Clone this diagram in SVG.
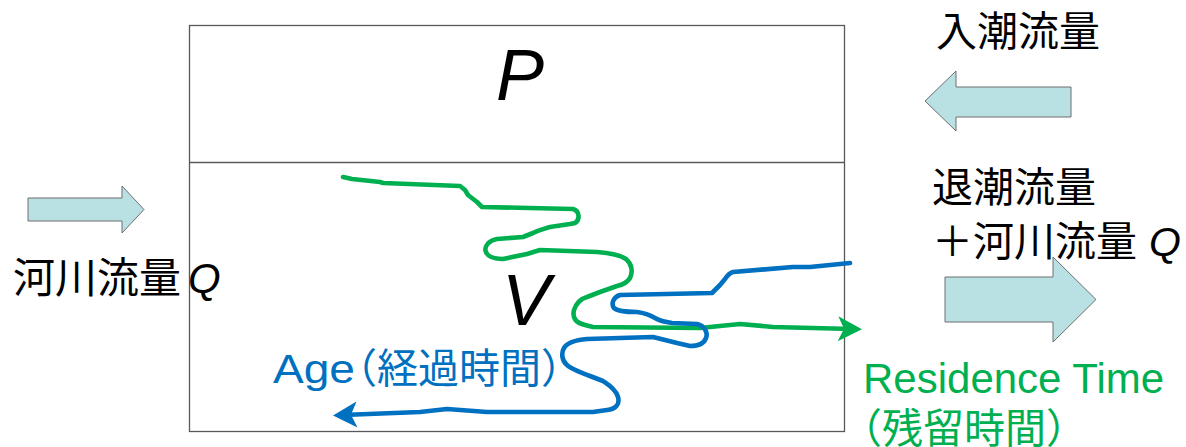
<svg xmlns="http://www.w3.org/2000/svg" width="1186" height="447" viewBox="0 0 1186 447">
<style>
.jp{font-family:"Noto Sans CJK JP","Liberation Sans",sans-serif;font-size:41px;fill:#000}
.q{font-family:"Liberation Sans",sans-serif;font-style:italic}
.big{font-family:"Liberation Sans",sans-serif;font-style:italic;font-size:72px;fill:#000}
.blk{fill:#B9E0E2;stroke:#6E6E6E;stroke-width:1}
.flow{fill:none;stroke-width:4.6;stroke-linejoin:round;stroke-linecap:round}
</style>
<defs>
<marker id="ag" markerUnits="userSpaceOnUse" viewBox="-16 -14 28 28" refX="0" refY="0" markerWidth="28" markerHeight="28" orient="auto">
<path d="M10,0 L-14,-12.5 L-8,0 L-14,12.5 Z" fill="#00B050"/>
</marker>
<marker id="ab" markerUnits="userSpaceOnUse" viewBox="-16 -14 28 28" refX="0" refY="0" markerWidth="28" markerHeight="28" orient="auto">
<path d="M10,0 L-14,-13 L-8,0 L-14,13 Z" fill="#0070C0"/>
</marker>
</defs>
<rect width="1186" height="447" fill="#fff"/>
<g id="box">
<rect x="189.5" y="25.5" width="655" height="406" fill="none" stroke="#595959" stroke-width="1.3"/>
<line x1="189.5" y1="162.5" x2="844.5" y2="162.5" stroke="#595959" stroke-width="1.3"/>
<text class="big" x="520" y="100" text-anchor="middle">P</text>
<text class="big" x="526" y="325" text-anchor="middle">V</text>
</g>
<g id="river-in">
<polygon class="blk" points="28,198 122,198 122,186 144,209.5 122,233 122,221 28,221"/>
<text class="jp" x="13" y="293" style="font-size:42px">河川流量<tspan class="q" x="188">Q</tspan></text>
</g>
<g id="flood-tide">
<text class="jp" x="936" y="46">入潮流量</text>
<polygon class="blk" points="1071,87 956,87 956,71 925,101 956,131 956,117 1071,117"/>
</g>
<g id="ebb-tide">
<text class="jp" x="932" y="202">退潮流量</text>
<text class="jp" x="932" y="256">＋河川流量<tspan class="q" x="1149">Q</tspan></text>
<polygon class="blk" points="945,277 1053,277 1053,257 1096,299.5 1053,342 1053,322 945,322"/>
</g>
<g id="connectors">
<path class="flow" stroke="#00B050" marker-end="url(#ag)" d="M343,177 L352,179 L380,182 L383,183 L460,186 L465,190 L468,195 L477,202 L482,207 L573,209 C580,211 580,220 575,223 L570,224 L550,227 C543,229 537,231 533,233 L523,237 L497,239 C487,241 484,248 486,252 C488,257 495,259 503,259 L527,254 L540,250 L597,252 C610,253 620,255 626,259 C632,264 633,272 630,278 C627,283 622,285 617,286 L600,292 L587,297 C580,299 576,304 574,310 C572,318 576,323 585,325 L593,327 L700,328 L740,324 L773,327 L852,329"/>
<path class="flow" stroke="#0070C0" marker-end="url(#ab)" d="M850,263 L810,267 L793,267 L733,272 C729,273 727,276 725,279 L720,285 L712,293 L620,295 C613,297 611,304 614,308 C617,311 625,312 637,312 C645,313 650,315 655,318 C660,321 665,322 672,323 L697,324 C705,326 708,333 706,338 C704,344 698,346 690,346 L677,343 L653,337 L587,339 C575,340 567,343 564,348 C561,353 562,360 566,364 C570,369 580,372 590,376 L603,381 C610,386 616,390 618,397 C620,404 616,409 607,410 L593,412 L487,412 L447,409 L420,412 L343,415"/>
</g>
<g id="age-label">
<text x="273" y="383" fill="#0070C0" style="font-family:'Liberation Sans',sans-serif;font-size:41px"><tspan textLength="82" lengthAdjust="spacingAndGlyphs">Age</tspan><tspan x="336" style="font-family:'Noto Sans CJK JP',sans-serif">（経過時間）</tspan></text>
</g>
<g id="residence-label">
<text x="863" y="393" fill="#00B050" style="font-family:'Liberation Sans',sans-serif;font-size:42px">Residence Time</text>
<text x="841" y="443" fill="#00B050" style="font-family:'Noto Sans CJK JP',sans-serif;font-size:41px">（残留時間）</text>
</g>
</svg>
